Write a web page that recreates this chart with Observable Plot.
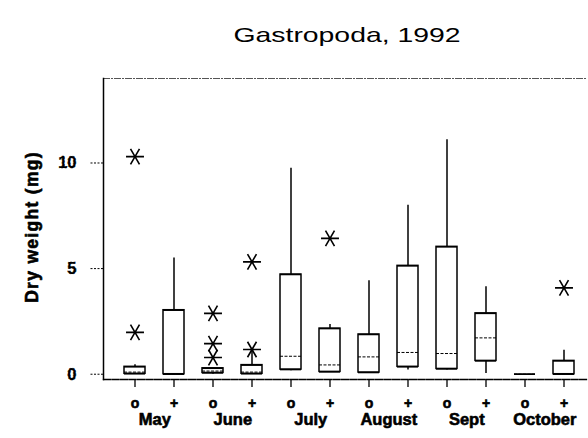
<!DOCTYPE html>
<html><head><meta charset="utf-8">
<script src="https://cdn.jsdelivr.net/npm/d3@7"></script>
<script src="https://cdn.jsdelivr.net/npm/@observablehq/plot@0.6"></script>
<style>body{margin:0;background:#fff}</style>
</head><body><div id="chart"></div>
<script>
const months = ["May","June","July","August","Sept","October"];
const treatments = ["o","+"];
const categories = months.flatMap(m => treatments.map(t => m + " " + t));
const whiskerLow  = [0,    0,    0,    0,    0.16, 0.10, 0.08, 0.20, 0.20, 0.03, 0, 0];
const q1          = [0.02, 0,    0.06, 0.02, 0.22, 0.11, 0.08, 0.35, 0.25, 0.63, 0, 0];
const median      = [0.10, 0,    0.15, 0.10, 0.85, 0.44, 0.82, 1.03, 0.98, 1.72, 0, 0];
const q3          = [0.35, 3.03, 0.28, 0.43, 4.72, 2.16, 1.88, 5.13, 6.03, 2.88, 0, 0.63];
const whiskerHigh = [0.45, 5.50, 0.28, 1.10, 9.75, 2.35, 4.42, 8.00, 11.10, 4.14, 0, 1.14];
const outlierCategory = ["May o","May o","June o","June o","June o","June +","June +","July +","October +"];
const outlierValue    = [10.3, 1.98, 2.88, 1.45, 0.79, 5.32, 1.17, 6.43, 4.09];
const yTicks = [0, 5, 10];
const title = "Gastropoda, 1992";
const yLabel = "Dry weight (mg)";

const boxes = categories.map((c, i) => ({cat: c, lo: whiskerLow[i], q1: q1[i], med: median[i], q3: q3[i], hi: whiskerHigh[i]}));
const outliers = outlierCategory.map((c, i) => ({cat: c, value: outlierValue[i]}));

const heavy = {fontWeight: "bold", fill: "black", stroke: "black", strokeWidth: 0.6};

const svg = Plot.plot({
  width: 588, height: 438,
  marginLeft: 103, marginRight: 1, marginTop: 78, marginBottom: 59,
  x: {type: "band", domain: categories, paddingInner: 0.47, paddingOuter: 0.35, align: 0.6, axis: null},
  y: {domain: [-0.25, 14], axis: null},
  style: {fontFamily: "'Liberation Sans', Arial, sans-serif", color: "black", background: "white"},
  marks: [
    Plot.frame({anchor: "top", stroke: "#555", strokeDasharray: "6,2,1,2", strokeWidth: 1}),
    Plot.frame({anchor: "bottom", stroke: "black", strokeDasharray: "7,1.5", strokeWidth: 1.3}),
    Plot.frame({anchor: "left", stroke: "black", strokeWidth: 1.5}),
    Plot.axisY(yTicks, {tickSize: 14, tickPadding: 13, fontSize: 16.5, fontWeight: "bold", strokeDasharray: "2,1.5", label: null, className: "yax"}),
    Plot.axisX({tickSize: 8, tickFormat: () => "", label: null, strokeWidth: 1.3}),
    Plot.ruleX(boxes, {x: "cat", y1: "lo", y2: "q1", stroke: "black", strokeWidth: 1.5}),
    Plot.ruleX(boxes, {x: "cat", y1: "q3", y2: "hi", stroke: "black", strokeWidth: 1.5}),
    Plot.barY(boxes, {x: "cat", y1: "q1", y2: "q3", fill: "white", stroke: "black", strokeWidth: 1.5}),
    Plot.tickY(boxes, {x: "cat", y: "q1", stroke: "black", strokeWidth: 1.5}),
    Plot.tickY(boxes, {x: "cat", y: "q3", stroke: "black", strokeWidth: 1.5}),
    Plot.tickY(boxes, {x: "cat", y: "med", stroke: "black", strokeWidth: 1, strokeDasharray: "3,1.5"}),
    Plot.dot(outliers, {x: "cat", y: "value", symbol: "asterisk", r: 8.5, rotate: 90, stroke: "black", strokeWidth: 1.6}),
    Plot.text(categories, {x: d => d, text: d => d.split(" ")[1], frameAnchor: "bottom", dy: 28, fontSize: 14, ...heavy}),
    Plot.text(months, {x: m => m + " o", text: d => d, dx: 19.8, frameAnchor: "bottom", dy: 45, fontSize: 16.5, ...heavy}),
    Plot.text([yLabel], {text: d => d, frameAnchor: "left", textAnchor: "middle", dx: -71, dy: -2, rotate: -90, fontSize: 17.5, ...heavy, className: "ylab"}),
    Plot.text([title], {text: d => d, frameAnchor: "top", dx: 1.5, dy: -51.5, fontSize: 21, className: "ttl"})
  ]
});
d3.select(svg).selectAll(".ttl text").attr("textLength", 227).attr("lengthAdjust", "spacingAndGlyphs");
d3.select(svg).selectAll(".ylab text").style("letter-spacing", "1.3px");
d3.select(svg).selectAll(".yax text").attr("stroke", "black").attr("stroke-width", 0.6).attr("stroke-dasharray", null);
document.getElementById("chart").appendChild(svg);
</script>
</body></html>
